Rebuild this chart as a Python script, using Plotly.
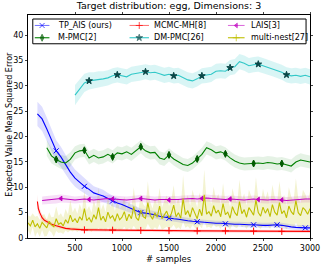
import plotly.graph_objects as go

# ---------------- data ----------------
tp_x = list(range(100, 3001, 50))
tp_y = [24.5, 23.5, 21.5, 19.5, 17.2, 16.0, 14.5, 13.0, 11.8, 11.0,
        10.2, 9.6, 8.9, 8.6, 8.3, 7.8, 7.3, 6.9, 6.6, 6.2,
        5.8, 5.4, 5.0, 4.9, 4.8, 4.6, 4.3, 4.1, 3.9, 3.8,
        3.7, 3.5, 3.4, 3.3, 3.2, 3.1, 3.1, 3.0, 2.9, 2.9,
        2.8, 2.8, 2.7, 2.7, 2.6, 2.6, 2.6, 2.5, 2.5, 2.5,
        2.6, 2.6, 2.5, 2.3, 2.2, 2.1, 2.0, 2.0, 2.0]
tp_sd = [2.4, 2.4, 2.3, 2.2, 2.1, 2.0, 1.9, 1.8, 1.7, 1.6,
         1.5, 1.4, 1.3, 1.2, 1.2, 1.1, 1.1, 1.0, 1.0, 0.9,
         0.9, 0.8, 0.8, 0.8, 0.7, 0.7, 0.7, 0.7, 0.6, 0.6,
         0.6, 0.6, 0.6, 0.5, 0.5, 0.5, 0.5, 0.5, 0.5, 0.5,
         0.5, 0.5, 0.5, 0.5, 0.5, 0.5, 0.5, 0.5, 0.5, 0.5,
         0.5, 0.5, 0.5, 0.5, 0.5, 0.5, 0.5, 0.5, 0.5]
tp_marks = [300, 600, 900, 1200, 1500, 1800, 2100, 2400, 2650, 2950]

mh_x = [100, 110, 125, 150, 175, 200, 250, 300, 350, 400, 450, 500, 550] + list(range(600, 3001, 100))
mh_y = [7.2, 5.8, 5.0, 4.0, 3.5, 3.2, 2.7, 2.4, 2.1, 1.9, 1.8, 1.7, 1.65,
        1.6, 1.6, 1.55, 1.55, 1.5, 1.5, 1.5, 1.5, 1.45, 1.45, 1.45, 1.4, 1.4,
        1.4, 1.4, 1.4, 1.35, 1.35, 1.35, 1.35, 1.3, 1.3, 1.3, 1.3, 1.3]
mh_sd = [1.4, 1.0, 0.8, 0.6, 0.5, 0.45, 0.4, 0.35, 0.3, 0.3, 0.3, 0.3, 0.3,
         0.3, 0.3, 0.3, 0.3, 0.3, 0.3, 0.3, 0.3, 0.3, 0.3, 0.3, 0.3, 0.3,
         0.3, 0.3, 0.3, 0.3, 0.3, 0.3, 0.3, 0.3, 0.3, 0.3, 0.3, 0.3]
mh_marks = [600, 900, 1200, 1500, 1800, 2100, 2400, 2700]

lais_x = list(range(150, 3001, 50))
lais_y = [7.4, 7.5, 7.5, 7.6, 7.8, 7.7, 7.6, 7.5, 7.6, 7.7,
          7.6, 7.5, 7.6, 7.7, 7.8, 7.7, 7.6, 7.5, 7.5, 7.6,
          7.7, 7.8, 7.7, 7.6, 7.5, 7.6, 7.6, 7.5, 7.5, 7.6,
          7.7, 7.8, 7.8, 7.7, 7.8, 7.9, 7.8, 7.7, 7.6, 7.6,
          7.7, 7.6, 7.5, 7.5, 7.6, 7.7, 7.6, 7.5, 7.5, 7.6,
          7.6, 7.5, 7.4, 7.5, 7.6, 7.7, 7.7, 7.7]
lais_sd = [0.8, 0.8, 0.8, 0.8, 0.8, 0.8, 0.7, 0.7, 0.7, 0.7,
           0.7, 0.7, 0.7, 0.7, 0.7, 0.7, 0.7, 0.7, 0.7, 0.7,
           0.7, 0.7, 0.7, 0.7, 0.7, 0.7, 0.7, 0.7, 0.7, 0.7,
           0.7, 0.7, 0.7, 0.7, 0.7, 0.7, 0.7, 0.7, 0.7, 0.7,
           0.7, 0.7, 0.7, 0.7, 0.7, 0.7, 0.7, 0.7, 0.7, 0.7,
           0.7, 0.7, 0.7, 0.7, 0.7, 0.7, 0.7, 0.7]
lais_marks = [350, 650, 900, 1200, 1500, 1850, 2150, 2450, 2700]

mpmc_x = list(range(200, 3001, 50))
mpmc_y = [17.8, 16.2, 15.5, 15.0, 14.8, 15.5, 16.8, 17.2, 17.3, 15.8,
          16.3, 15.8, 16.0, 16.5, 16.0, 16.8, 16.6, 17.0, 16.5, 17.2,
          18.0, 17.2, 16.8, 16.9, 15.8, 15.5, 16.4, 15.6, 15.0, 14.5,
          14.3, 14.8, 15.6, 16.5, 17.8, 17.4, 16.8, 17.0, 16.6, 15.8,
          15.2, 14.8, 14.6, 14.7, 14.7, 14.8, 14.7, 14.9, 14.8, 14.6,
          14.7, 14.5, 14.2, 15.0, 15.4, 15.2, 15.0]
mpmc_sd = [1.6, 1.5, 1.4, 1.4, 1.4, 1.4, 1.3, 1.3, 1.3, 1.3,
           1.3, 1.3, 1.3, 1.3, 1.3, 1.3, 1.3, 1.3, 1.3, 1.3,
           1.3, 1.3, 1.3, 1.3, 1.3, 1.3, 1.3, 1.3, 1.3, 1.3,
           1.3, 1.3, 1.3, 1.3, 1.3, 1.3, 1.3, 1.3, 1.3, 1.3,
           1.3, 1.3, 1.3, 1.3, 1.3, 1.3, 1.3, 1.3, 1.3, 1.3,
           1.3, 1.3, 1.3, 1.3, 1.3, 1.3, 1.3]
mpmc_marks = [300, 600, 900, 1200, 1500, 1800, 2100, 2400, 2700]

dm_x = list(range(500, 3001, 50))
dm_y = [28.2, 29.5, 30.6, 31.0, 31.1, 31.3, 31.4, 31.6, 32.0, 32.2,
        32.0, 31.8, 32.3, 32.5, 32.6, 32.8, 32.6, 32.7, 32.4, 32.1,
        32.3, 32.0, 32.1, 31.7, 31.2, 31.0, 31.4, 32.0, 32.1, 32.3,
        32.9, 33.0, 32.9, 33.6, 33.8, 34.8, 34.5, 34.0, 34.2, 34.3,
        34.0, 33.7, 33.4, 33.1, 32.7, 32.2, 32.0, 32.1, 31.9, 32.1, 31.8]
dm_sd = [2.0, 1.9, 1.8, 1.7, 1.6, 1.6, 1.5, 1.5, 1.5, 1.5,
         1.5, 1.5, 1.5, 1.5, 1.5, 1.5, 1.5, 1.5, 1.5, 1.5,
         1.5, 1.5, 1.5, 1.5, 1.5, 1.5, 1.5, 1.5, 1.5, 1.5,
         1.5, 1.5, 1.5, 1.5, 1.5, 1.5, 1.5, 1.5, 1.5, 1.5,
         1.5, 1.5, 1.5, 1.5, 1.5, 1.5, 1.5, 1.5, 1.5, 1.5, 1.5]
dm_marks = [650, 950, 1250, 1550, 1850, 2150, 2450, 2750]

mn_x = list(range(0, 3001, 25))
mn_y = [3.0, 2.4, 3.5, 2.2, 2.8, 1.9, 3.1, 2.5, 2.0, 3.3, 2.6, 2.2, 3.8, 2.7, 3.0, 2.4, 3.6, 2.9, 4.5, 3.2, 3.8,
        3.0, 4.2, 3.5, 5.8, 3.4, 4.0, 3.1, 4.6, 3.7, 6.0, 3.5, 4.3, 3.2, 5.1, 3.9, 4.4, 3.3, 4.8, 3.6, 4.1,
        5.2, 3.4, 4.7, 3.8, 6.2, 4.0, 3.5, 5.5, 4.2, 3.9, 7.0, 4.5, 3.7, 5.0, 4.1, 6.3, 3.8, 4.6, 5.3, 4.0,
        4.8, 6.5, 4.2, 5.0, 3.9, 7.8, 4.6, 5.4, 4.1, 6.0, 4.9, 3.8, 5.7, 4.4, 8.5, 4.7, 5.2, 4.3, 6.4, 4.9,
        5.5, 4.2, 6.8, 4.6, 5.1, 3.9, 6.2, 5.0, 4.4, 7.2, 4.8, 5.6, 4.1, 6.0, 5.3, 4.5, 7.5, 5.0, 4.3, 6.1,
        4.9, 5.8, 4.2, 6.6, 5.1, 4.5, 7.0, 4.8, 5.4, 4.0, 6.3, 5.2, 4.6, 7.4, 5.0, 4.4, 6.0, 5.5, 4.7, 5.8]
mn_sd = [1.5, 1.8, 1.4, 2.0, 1.6, 1.7, 1.5, 2.2, 1.6, 1.8, 1.5, 2.0, 2.4, 1.7, 1.9, 1.6, 2.1, 1.8, 3.0, 1.9, 2.2,
         1.8, 2.5, 2.0, 3.5, 2.1, 2.3, 1.9, 2.8, 2.2, 4.0, 2.0, 2.4, 1.9, 3.0, 2.2, 2.6, 2.0, 2.9, 2.1, 2.4,
         3.0, 2.0, 2.7, 2.2, 3.8, 2.3, 2.0, 3.2, 2.5, 2.2, 4.2, 2.6, 2.1, 2.9, 2.4, 3.6, 2.2, 2.7, 3.1, 2.3,
         2.8, 3.9, 2.4, 2.9, 2.2, 4.6, 2.6, 3.1, 2.3, 3.5, 2.8, 2.2, 3.3, 2.5, 5.0, 2.7, 3.0, 2.4, 3.7, 2.8,
         3.2, 2.4, 4.0, 2.6, 3.0, 2.2, 3.6, 2.9, 2.5, 4.3, 2.7, 3.2, 2.3, 3.5, 3.0, 2.6, 4.5, 2.9, 2.5, 3.6,
         2.8, 3.4, 2.4, 3.9, 3.0, 2.6, 4.2, 2.8, 3.1, 2.3, 3.7, 3.0, 2.7, 4.4, 2.9, 2.5, 3.5, 3.2, 2.7, 3.4]
mn_marks = []

x_ticks = [500, 1000, 1500, 2000, 2500, 3000]
y_ticks = [0, 5, 10, 15, 20, 25, 30, 35, 40]

series = [
    # name, x, y, sd, marks, line color, band color, symbol, marker color, size, legend line color
    ("TP_AIS (ours)", tp_x, tp_y, tp_sd, tp_marks, "rgb(0,0,255)", "rgba(0,0,255,0.13)", "x-thin-open", "rgb(0,0,255)", 5, "rgb(120,120,255)"),
    ("MCMC-MH[8]", mh_x, mh_y, mh_sd, mh_marks, "rgb(255,0,0)", "rgba(255,0,0,0.13)", "cross-thin-open", "rgb(255,0,0)", 5, "rgb(255,120,120)"),
    ("LAIS[3]", lais_x, lais_y, lais_sd, lais_marks, "rgb(191,0,191)", "rgba(191,0,191,0.13)", "triangle-left", "rgb(191,0,191)", 4, "rgb(220,110,220)"),
    ("M-PMC[2]", mpmc_x, mpmc_y, mpmc_sd, mpmc_marks, "rgb(0,128,0)", "rgba(0,128,0,0.10)", "diamond-tall", "rgb(0,90,0)", 5, "rgb(0,128,0)"),
    ("DM-PMC[26]", dm_x, dm_y, dm_sd, dm_marks, "rgb(50,200,200)", "rgba(0,191,191,0.15)", "star", "rgb(10,70,70)", 5, "rgb(50,200,200)"),
    ("multi-nest[27]", mn_x, mn_y, mn_sd, mn_marks, "rgb(191,191,0)", "rgba(191,191,0,0.18)", "cross-thin-open", "rgb(191,191,0)", 5, "rgb(191,191,0)"),
]

# legend layout (paper fractions of the plot area): 3 columns x 2 rows, row-wise order
leg_cols = [(0.024, 0.076, 0.099), (0.360, 0.429, 0.440), (0.709, 0.768, 0.785)]  # line start, line end, text x
leg_rows = [0.953, 0.898]
leg_box = (0.017, 0.871, 0.986, 0.982)

fig = go.Figure()

# bands first
for name, xs, ys, sd, marks, col, band, sym, mcol, msz, lcol in series:
    assert len(xs) == len(ys) == len(sd), name
    upper = [y + s for y, s in zip(ys, sd)]
    lower = [max(y - s, 0) for y, s in zip(ys, sd)]
    fig.add_trace(go.Scatter(
        x=xs + xs[::-1], y=upper + lower[::-1], fill="toself", fillcolor=band,
        line=dict(width=0), mode="lines", hoverinfo="skip", showlegend=False))

# lines and markers
for name, xs, ys, sd, marks, col, band, sym, mcol, msz, lcol in series:
    fig.add_trace(go.Scatter(x=xs, y=ys, mode="lines", line=dict(color=col, width=1.1),
                             name=name, showlegend=False))
    mx = [x for x in xs if x in marks]
    my = [y for x, y in zip(xs, ys) if x in marks]
    fig.add_trace(go.Scatter(x=mx, y=my, mode="markers", showlegend=False,
                             marker=dict(symbol=sym, size=msz, color=mcol,
                                         line=dict(color=mcol, width=1))))

# legend box, samples (on a hidden 0..1 overlay axis) and labels
shapes = [dict(type="rect", xref="paper", yref="paper", x0=leg_box[0], y0=leg_box[1],
               x1=leg_box[2], y1=leg_box[3], line=dict(color="black", width=1),
               fillcolor="white", layer="below")]
annotations = []
for i, (name, xs, ys, sd, marks, col, band, sym, mcol, msz, lcol) in enumerate(series):
    c0, c1, tx = leg_cols[i % 3]
    ry = leg_rows[i // 3]
    fig.add_trace(go.Scatter(x=[c0, (c0 + c1) / 2, c1], y=[ry, ry, ry], xaxis="x2", yaxis="y2",
                             mode="lines+markers", showlegend=False, hoverinfo="skip",
                             line=dict(color=lcol, width=1.1),
                             marker=dict(symbol=sym, size=[0, msz, 0], color=mcol,
                                         line=dict(color=mcol, width=1))))
    annotations.append(dict(text=name, xref="paper", yref="paper", x=tx, y=ry, xanchor="left",
                            yanchor="middle", showarrow=False, font=dict(size=8)))

annotations += [
    dict(text="# samples", xref="paper", yref="paper", x=0.5, y=-0.095, xanchor="center",
         yanchor="middle", showarrow=False, font=dict(size=8.5)),
    dict(text="Expected Value Mean Squared Error", xref="paper", yref="paper", x=-0.066, y=0.51,
         xanchor="center", yanchor="middle", textangle=-90, showarrow=False, font=dict(size=8)),
]

fig.update_layout(
    width=332, height=265,
    margin=dict(l=28, r=15, t=15, b=26),
    paper_bgcolor="white", plot_bgcolor="white",
    font=dict(family="DejaVu Sans", size=8, color="black"),
    title=dict(text="Target distribution: egg, Dimensions: 3", x=0.5, xanchor="center", xref="paper",
               y=1, yanchor="top", yref="container", pad=dict(t=2),
               font=dict(size=9.5, family="DejaVu Sans", color="black")),
    showlegend=False,
    shapes=shapes,
    annotations=annotations,
    xaxis=dict(range=[0, 3000], tickvals=x_ticks, ticks="outside", ticklen=2,
               showline=True, linecolor="black", linewidth=1, mirror="ticks",
               showgrid=False, zeroline=False, tickfont=dict(size=8)),
    yaxis=dict(range=[0, 44], tickvals=y_ticks, ticks="outside", ticklen=2,
               showline=True, linecolor="black", linewidth=1, mirror="ticks",
               showgrid=False, zeroline=False, tickfont=dict(size=8)),
    xaxis2=dict(range=[0, 1], overlaying="x", visible=False, fixedrange=True),
    yaxis2=dict(range=[0, 1], overlaying="y", visible=False, fixedrange=True),
)

fig.write_html("out.html", config={"displayModeBar": False},
               post_script="document.body.style.margin='0';document.body.style.overflow='hidden';")
